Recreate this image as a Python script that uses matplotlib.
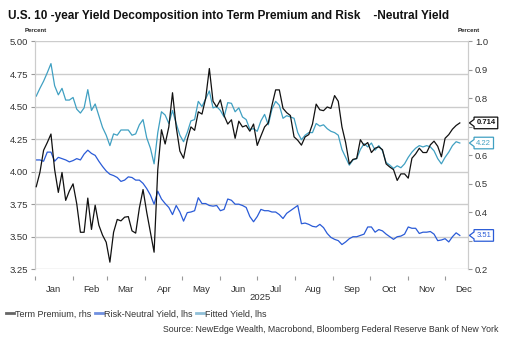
import numpy as np
import pandas as pd
import matplotlib
matplotlib.use("Agg")
import matplotlib.pyplot as plt
import matplotlib.dates as mdates
from matplotlib.lines import Line2D
from matplotlib.path import Path

plt.rcParams['font.family'] = ['Liberation Sans', 'DejaVu Sans']

# sampled every 3 days from Jan 2 2025
dates = pd.date_range('2025-01-02', periods=116, freq='3D')

# Term Premium, right axis (percent)
term_premium = [
    0.49, 0.54, 0.618, 0.645, 0.675, 0.55, 0.47, 0.54, 0.442, 0.475,
    0.50, 0.43, 0.33, 0.33, 0.45, 0.34, 0.425, 0.355, 0.32, 0.295,
    0.225, 0.33, 0.375, 0.37, 0.383, 0.385, 0.335, 0.327, 0.415, 0.48,
    0.40, 0.33, 0.26, 0.55, 0.69, 0.64, 0.70, 0.82, 0.70, 0.615,
    0.59, 0.655, 0.70, 0.688, 0.753, 0.745, 0.80, 0.905, 0.79, 0.77,
    0.795, 0.74, 0.71, 0.725, 0.66, 0.72, 0.70, 0.705, 0.685, 0.71,
    0.635, 0.668, 0.70, 0.714, 0.776, 0.83, 0.83, 0.765, 0.75, 0.74,
    0.665, 0.653, 0.636, 0.665, 0.673, 0.71, 0.78, 0.76, 0.757, 0.77,
    0.765, 0.81, 0.79, 0.70, 0.645, 0.57, 0.586, 0.589, 0.655, 0.635,
    0.645, 0.61, 0.625, 0.63, 0.62, 0.57, 0.559, 0.55, 0.512, 0.535,
    0.535, 0.52, 0.59, 0.605, 0.625, 0.61, 0.61, 0.637, 0.65, 0.632,
    0.595, 0.66, 0.673, 0.692, 0.705, 0.714,
]

# Risk-Neutral Yield, left axis
risk_neutral = [
    4.09, 4.09, 4.08, 4.15, 4.15, 4.08, 4.11, 4.10, 4.09, 4.075,
    4.085, 4.10, 4.09, 4.135, 4.165, 4.14, 4.125, 4.08, 4.04, 4.005,
    3.98, 3.97, 3.955, 3.925, 3.935, 3.96, 3.955, 3.935, 3.935, 3.91,
    3.87, 3.82, 3.75, 3.85, 3.79, 3.755, 3.725, 3.67, 3.74, 3.69,
    3.62, 3.685, 3.69, 3.70, 3.80, 3.755, 3.755, 3.74, 3.735, 3.74,
    3.70, 3.71, 3.79, 3.78, 3.75, 3.75, 3.74, 3.725, 3.655, 3.615,
    3.655, 3.71, 3.70, 3.70, 3.69, 3.69, 3.67, 3.64, 3.68, 3.70,
    3.72, 3.74, 3.60, 3.605, 3.595, 3.58, 3.575, 3.595, 3.57, 3.525,
    3.495, 3.48, 3.47, 3.44, 3.46, 3.485, 3.50, 3.50, 3.51, 3.52,
    3.575, 3.575, 3.535, 3.555, 3.545, 3.52, 3.50, 3.48, 3.50, 3.505,
    3.52, 3.575, 3.565, 3.565, 3.525, 3.535, 3.535, 3.54, 3.52, 3.47,
    3.475, 3.485, 3.46, 3.50, 3.53, 3.51,
]

# Fitted Yield, left axis
fitted = [
    4.58, 4.64, 4.695, 4.76, 4.83, 4.66, 4.59, 4.64, 4.55, 4.55,
    4.57, 4.48, 4.45, 4.49, 4.63, 4.47, 4.52, 4.43, 4.34, 4.28,
    4.20, 4.29, 4.28, 4.32, 4.32, 4.32, 4.28, 4.29, 4.36, 4.40,
    4.26, 4.18, 4.06, 4.30, 4.46, 4.435, 4.37, 4.47, 4.37, 4.28,
    4.23, 4.30, 4.39, 4.40, 4.54, 4.50, 4.56, 4.62, 4.49, 4.50,
    4.47, 4.42, 4.53, 4.525, 4.46, 4.49, 4.42, 4.40, 4.325, 4.33,
    4.31, 4.39, 4.44, 4.36, 4.48, 4.54, 4.51, 4.41, 4.43, 4.42,
    4.41, 4.30, 4.245, 4.28, 4.30, 4.30, 4.37, 4.35, 4.36, 4.33,
    4.31, 4.30, 4.28, 4.17, 4.11, 4.05, 4.09, 4.10, 4.17, 4.215,
    4.19, 4.22, 4.165, 4.20, 4.16, 4.07, 4.05, 4.025, 4.045, 4.03,
    4.06, 4.11, 4.15, 4.18, 4.20, 4.19, 4.20, 4.19, 4.16, 4.10,
    4.06, 4.11, 4.15, 4.20, 4.23, 4.22,
]

left_ticks = [3.25, 3.50, 3.75, 4.00, 4.25, 4.50, 4.75, 5.00]
right_ticks = [0.2, 0.3, 0.4, 0.5, 0.6, 0.7, 0.8, 0.9, 1.0]
# right tick labels hidden behind the last-value tags in the original
right_hidden = [0.3, 0.7]

c_tp = '#111111'
c_rn = '#2a5bd7'
c_fit = '#40a0c2'
grid_c = '#cccccc'
txt_c = '#333333'


def tag_box(x0, y0, width, height, mutation_size):
    # rectangle with a small pointer on the left side
    pad = 0.3 * mutation_size
    x0 -= pad
    y0 -= pad
    width += 2 * pad
    height += 2 * pad
    tip = 0.4 * height
    verts = [(x0, y0), (x0 + width, y0), (x0 + width, y0 + height),
             (x0, y0 + height), (x0, y0 + height * 0.8),
             (x0 - tip, y0 + height / 2), (x0, y0 + height * 0.2), (x0, y0)]
    return Path(verts, closed=True)


fig = plt.figure(figsize=(5.2, 3.4), dpi=100)
ax = fig.add_axes([0.0673, 0.208, 0.8327, 0.670])
ax2 = ax.twinx()

ax.plot(dates, fitted, color=c_fit, lw=0.9, zorder=3)
ax.plot(dates, risk_neutral, color=c_rn, lw=0.9, zorder=3)
ax2.plot(dates, term_premium, color=c_tp, lw=0.9, zorder=3)

ax.set_ylim(3.25, 5.00)
ax2.set_ylim(0.2, 1.0)
ax.set_yticks(left_ticks)
ax.set_yticklabels([f'{v:.2f}' for v in left_ticks])
ax2.set_yticks(right_ticks)
ax2.set_yticklabels(['' if v in right_hidden else f'{v:.1f}' for v in right_ticks])
ax.set_xlim(pd.Timestamp('2025-01-01'), pd.Timestamp('2025-12-19 16:00'))

ax.grid(axis='y', color=grid_c, lw=1.0)
ax.set_axisbelow(True)

# month ticks at boundaries, labels mid-month
ax.xaxis.set_major_locator(mdates.MonthLocator())
ax.xaxis.set_major_formatter(plt.NullFormatter())
ax.xaxis.set_minor_locator(mdates.MonthLocator(bymonthday=16))
ax.xaxis.set_minor_formatter(mdates.DateFormatter('%b'))
ax.tick_params(axis='x', which='major', length=3, color='#999999', direction='out')
ax.tick_params(axis='x', which='minor', length=0, labelsize=6.8, labelcolor=txt_c, pad=6)
ax.tick_params(axis='y', length=3, color='#999999', labelsize=6.8, labelcolor=txt_c, pad=2)
ax2.tick_params(axis='y', length=3, color='#999999', labelsize=6.8, labelcolor=txt_c, pad=2)

for a in (ax, ax2):
    a.spines['top'].set_visible(False)
    a.spines['left'].set_color(grid_c)
    a.spines['right'].set_color(grid_c)
    a.spines['bottom'].set_position(('outward', 5))
    a.spines['bottom'].set_color('none')

# last-value tags
tags = [
    (term_premium[-1], ax2.transData, f'{term_premium[-1]:.3f}', c_tp, 'bold'),
    (fitted[-1], ax.transData, f'{fitted[-1]:.2f}', c_fit, 'normal'),
    (risk_neutral[-1], ax.transData, f'{risk_neutral[-1]:.2f}', c_rn, 'normal'),
]
for val, tr, label, col, fw in tags:
    ax2.annotate(label, xy=(1, val), xycoords=('axes fraction', tr),
                 xytext=(6, 0), textcoords='offset points', ha='left', va='center',
                 fontsize=5.5, color=col, fontweight=fw, zorder=5,
                 bbox=dict(boxstyle=tag_box, fc='white', ec=col, lw=0.9),
                 annotation_clip=False)

fig.text(0.0154, 0.953, 'U.S. 10 -year Yield Decomposition into Term Premium and Risk    -Neutral Yield',
         fontsize=8.5, fontweight='bold', color='#111111', va='center', ha='left')
fig.text(0.048, 0.909, 'Percent', fontsize=4.3, fontweight='bold', ha='left', va='center', color='#222222')
fig.text(0.881, 0.909, 'Percent', fontsize=4.3, fontweight='bold', ha='left', va='center', color='#222222')
fig.text(0.5, 0.126, '2025', fontsize=6.8, color=txt_c, ha='center', va='center')

handles = [Line2D([], [], color='#666666', lw=2),
           Line2D([], [], color='#7090e0', lw=2),
           Line2D([], [], color='#90c0d8', lw=2)]
labels = ['Term Premium, rhs', 'Risk-Neutral Yield, lhs', 'Fitted Yield, lhs']
fig.legend(handles, labels, loc='center left', bbox_to_anchor=(0.012, 0.0765),
           ncol=3, frameon=False, fontsize=6.5, handlelength=0.9, handletextpad=0.1,
           columnspacing=0.4, borderaxespad=0, borderpad=0, labelcolor=txt_c)

fig.text(0.958, 0.032, 'Source: NewEdge Wealth, Macrobond, Bloomberg Federal Reserve Bank of New York',
         fontsize=6.3, color=txt_c, ha='right', va='center')

fig.savefig('out.png', dpi=100)
